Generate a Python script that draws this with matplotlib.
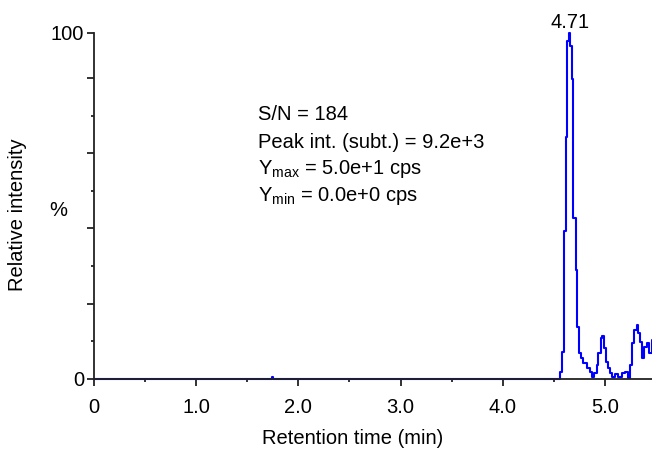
import matplotlib
matplotlib.use('Agg')
import matplotlib.pyplot as plt

# chromatogram trace (retention time in min, relative intensity in %)
rt = [0.0, 1.740, 1.750, 4.557, 4.576, 4.599, 4.618, 4.631, 4.648, 4.662,
      4.674, 4.690, 4.716, 4.729, 4.746, 4.765, 4.785, 4.821, 4.853, 4.876,
      4.892, 4.919, 4.932, 4.958, 4.974, 4.990, 5.007, 5.026, 5.049, 5.068,
      5.098, 5.127, 5.163, 5.196, 5.222, 5.245, 5.267, 5.287, 5.310, 5.326,
      5.342, 5.365, 5.384, 5.408, 5.431, 5.457, 5.470]
inten = [0.0, 0.6, 0.0, 2.1, 7.9, 42.9, 69.8, 97.7, 100.0, 96.3,
         86.7, 46.4, 31.4, 15.0, 7.5, 6.1, 4.6, 3.2, 2.1, 0.7,
         1.6, 4.0, 7.5, 11.8, 12.4, 8.9, 5.0, 3.2, 1.7, 0.7,
         1.4, 0.6, 1.7, 2.1, 0.3, 4.0, 10.4, 14.1, 15.6, 13.3,
         10.7, 6.1, 9.3, 10.4, 7.5, 11.2, 11.2]

peak_rt = 4.66
peak_label = '4.71'

xticks = [0, 1, 2, 3, 4, 5]
xlabels = ['0', '1.0', '2.0', '3.0', '4.0', '5.0']
xminor = [0.5, 1.5, 2.5, 3.5, 4.5]
yticks = [0, 21.7, 43.5, 65.2, 87.0, 100]
ylabels = ['0', '', '', '', '', '100']
yminor = [10.9, 32.6, 54.3, 76.1]

info = ['S/N = 184',
        'Peak int. (subt.) = 9.2e+3',
        r'Y$_{\mathregular{max}}$ = 5.0e+1 cps',
        r'Y$_{\mathregular{min}}$ = 0.0e+0 cps']

fs = 14.5
plt.rcParams['font.family'] = ['Liberation Sans', 'DejaVu Sans']
plt.rcParams['font.size'] = fs

fig = plt.figure(figsize=(6.52, 4.5), dpi=100)
ax = fig.add_axes([94/652, 71/450, 558/652, 346/450])

ax.plot(rt, inten, color='#0000ff', lw=1.5, drawstyle='steps-post', clip_on=False)

ax.set_xlim(0, 5.46)
ax.set_ylim(0, 100)
for s in ['top', 'right']:
    ax.spines[s].set_visible(False)
for s in ['left', 'bottom']:
    ax.spines[s].set_linewidth(1.3)
    ax.spines[s].set_color('#222222')

ax.set_xticks(xticks)
ax.set_xticklabels(xlabels)
ax.set_xticks(xminor, minor=True)
ax.set_yticks(yticks)
ax.set_yticklabels(ylabels)
ax.set_yticks(yminor, minor=True)
ax.tick_params(axis='both', which='major', direction='out', length=5, width=1.3,
               color='#222222', labelsize=fs)
ax.tick_params(axis='both', which='minor', direction='out', length=2, width=1.3,
               color='#222222')
ax.tick_params(axis='x', which='major', pad=9)
ax.tick_params(axis='y', which='major', pad=2)

ax.text(peak_rt, 100.3, peak_label, ha='center', va='bottom', fontsize=fs)

y0 = 115
for line in info:
    fig.text(258/652, 1 - y0/450, line, ha='left', va='center', fontsize=fs)
    y0 += 27

fig.text(353/652, 1 - 438/450, 'Retention time (min)', ha='center', va='center', fontsize=fs)
fig.text(18/652, 1 - 215/450, 'Relative intensity', ha='center', va='center',
         rotation=90, fontsize=fs)
fig.text(58/652, 1 - 210/450, '%', ha='center', va='center', fontsize=fs)

fig.savefig('out.png', dpi=100)
